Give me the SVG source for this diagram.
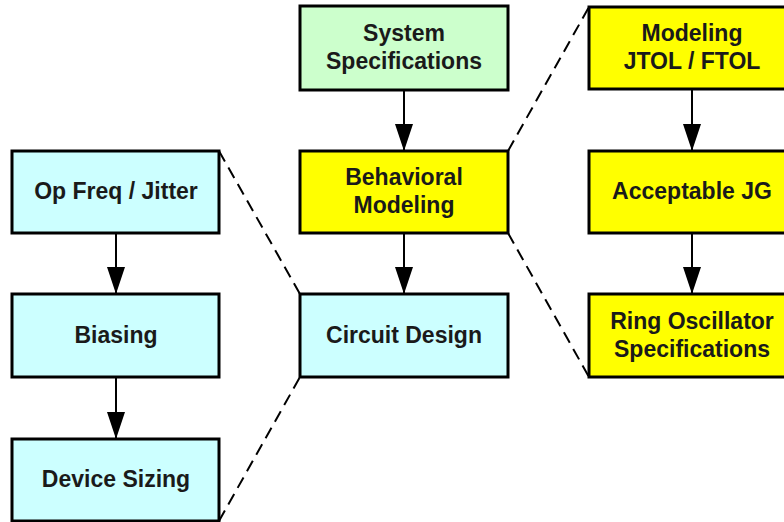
<svg xmlns="http://www.w3.org/2000/svg" width="784" height="522" viewBox="0 0 784 522">
<defs>
<style>
.box{stroke:#000;stroke-width:3}
.g{fill:#CCFFCC}.y{fill:#FFFF00}.c{fill:#CCFFFF}
text{font-family:"Liberation Sans",Arial,sans-serif;font-weight:bold;font-size:23px;fill:#1a1a1a;text-anchor:middle}
.arr{stroke:#000;stroke-width:2;fill:none;marker-end:url(#ah)}
.dash{stroke:#000;stroke-width:2;fill:none;stroke-dasharray:12,7}
</style>
<marker id="ah" viewBox="0 0 27 18" refX="27" refY="9" markerWidth="27" markerHeight="18" markerUnits="userSpaceOnUse" orient="auto">
<path d="M0,0 L27,9 L0,18 Z" fill="#000"/>
</marker>
</defs>
<rect width="784" height="522" fill="#fff"/>
<g id="connectors">
<line class="arr" x1="404" y1="90" x2="404" y2="151"/>
<line class="arr" x1="404" y1="233" x2="404" y2="294"/>
<line class="arr" x1="692" y1="89" x2="692" y2="151"/>
<line class="arr" x1="692" y1="233" x2="692" y2="294"/>
<line class="arr" x1="116" y1="233" x2="116" y2="294"/>
<line class="arr" x1="116" y1="377" x2="116" y2="439"/>
<line class="dash" x1="219" y1="151" x2="300" y2="294"/>
<line class="dash" x1="219" y1="521" x2="300" y2="377"/>
<line class="dash" x1="508" y1="151" x2="589" y2="7"/>
<line class="dash" x1="508" y1="233" x2="589" y2="377"/>
</g>
<g id="sysspec"><rect class="box g" x="300" y="6" width="208" height="84"/><text x="404" y="41">System</text><text x="404" y="69">Specifications</text></g>
<g id="behav"><rect class="box y" x="300" y="151" width="208" height="82"/><text x="404" y="185">Behavioral</text><text x="404" y="213">Modeling</text></g>
<g id="circuit"><rect class="box c" x="300" y="294" width="208" height="83"/><text x="404" y="343">Circuit Design</text></g>
<g id="jtol"><rect class="box y" x="589" y="7" width="208" height="82"/><text x="692" y="41">Modeling</text><text x="692" y="69">JTOL / FTOL</text></g>
<g id="jg"><rect class="box y" x="589" y="151" width="208" height="82"/><text x="692" y="199">Acceptable JG</text></g>
<g id="ring"><rect class="box y" x="589" y="294" width="208" height="83"/><text x="692" y="329">Ring Oscillator</text><text x="692" y="357">Specifications</text></g>
<g id="opfreq"><rect class="box c" x="12" y="151" width="207" height="82"/><text x="116" y="199">Op Freq / Jitter</text></g>
<g id="biasing"><rect class="box c" x="12" y="294" width="207" height="83"/><text x="116" y="343">Biasing</text></g>
<g id="sizing"><rect class="box c" x="12" y="439" width="207" height="82"/><text x="116" y="487">Device Sizing</text></g>
</svg>
